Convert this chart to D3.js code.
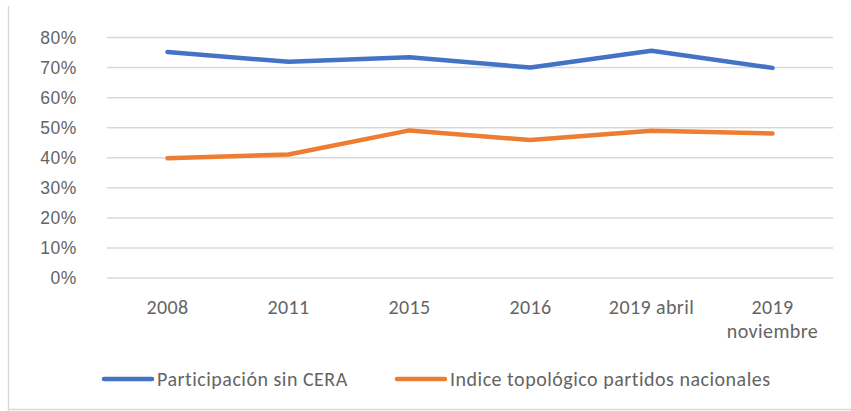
<!DOCTYPE html>
<html>
<head>
<meta charset="utf-8">
<script src="https://cdn.jsdelivr.net/npm/d3@7"></script>
<style>
  body { margin: 0; background: #fff; }
  svg { display: block; }
  text { fill: #646464; }
</style>
</head>
<body>
<svg width="851" height="411"></svg>
<script>
const categories = ["2008", "2011", "2015", "2016", "2019 abril", "2019 noviembre"];
const participacion = [75.2, 71.9, 73.4, 70.0, 75.6, 69.9];
const indiceTopologico = [39.8, 41.1, 49.1, 45.9, 49.0, 48.1];
const yTicks = [0, 10, 20, 30, 40, 50, 60, 70, 80];
const seriesNames = ["Participación sin CERA", "Indice topológico partidos nacionales"];

const svg = d3.select("svg");
const labelFont = "Carlito, 'Liberation Sans Narrow', 'DejaVu Sans Condensed', sans-serif";

// chart frame (only left and bottom edges visible in the crop)
svg.append("line").attr("x1", 8.5).attr("x2", 8.5).attr("y1", 6).attr("y2", 411)
    .attr("stroke", "#d9d9d9").attr("stroke-width", 1.5);
svg.append("line").attr("x1", 8).attr("x2", 851).attr("y1", 409.5).attr("y2", 409.5)
    .attr("stroke", "#d9d9d9").attr("stroke-width", 1.5);

const x = d3.scaleBand().domain(categories).range([107, 833]);
const y = d3.scaleLinear().domain([0, 80]).range([278, 37.5]);

// gridlines
svg.append("g")
    .selectAll("line")
    .data(yTicks)
    .join("line")
    .attr("x1", 107).attr("x2", 833)
    .attr("y1", d => y(d)).attr("y2", d => y(d))
    .attr("stroke", "#d9d9d9").attr("stroke-width", 1.5);

// y labels
svg.append("g")
    .selectAll("text")
    .data(yTicks)
    .join("text")
    .attr("x", 77)
    .attr("y", d => y(d))
    .attr("dy", "0.35em")
    .attr("text-anchor", "end")
    .style("font-family", "'Liberation Sans', Arial, sans-serif")
    .style("font-size", "17.5px")
    .style("letter-spacing", "0.6px")
    .text(d => d + "%");

// x labels (wrap "2019 noviembre")
const xl = svg.append("g")
    .selectAll("text")
    .data(categories)
    .join("text")
    .attr("x", d => x(d) + x.bandwidth() / 2)
    .attr("y", 314)
    .attr("text-anchor", "middle")
    .style("font-family", labelFont)
    .style("font-size", "20px")
    .style("letter-spacing", "0.4px");
xl.each(function (d) {
    const t = d3.select(this);
    if (d === "2019 noviembre") {
        t.append("tspan").attr("x", x(d) + x.bandwidth() / 2).text("2019");
        t.append("tspan").attr("x", x(d) + x.bandwidth() / 2).attr("dy", 24).text("noviembre");
    } else {
        t.text(d);
    }
});

const line = d3.line()
    .x((d, i) => x(categories[i]) + x.bandwidth() / 2)
    .y(d => y(d));

const colors = ["#4472c4", "#ed7d31"];
[participacion, indiceTopologico].forEach((s, i) => {
    svg.append("path")
        .datum(s)
        .attr("d", line)
        .attr("fill", "none")
        .attr("stroke", colors[i])
        .attr("stroke-width", 4.5)
        .attr("stroke-linejoin", "round")
        .attr("stroke-linecap", "round");
});

// legend
const legendX = [104, 397];
seriesNames.forEach((name, i) => {
    const g = svg.append("g").attr("transform", `translate(${legendX[i]},379)`);
    g.append("line").attr("x1", 0).attr("x2", 48).attr("y1", 0).attr("y2", 0)
        .attr("stroke", colors[i]).attr("stroke-width", 4.5).attr("stroke-linecap", "round");
    g.append("text").attr("x", 53).attr("y", 0).attr("dy", "0.35em")
        .style("font-family", labelFont).style("font-size", "20px")
        .style("letter-spacing", "0.5px")
        .text(name);
});
</script>
</body>
</html>
